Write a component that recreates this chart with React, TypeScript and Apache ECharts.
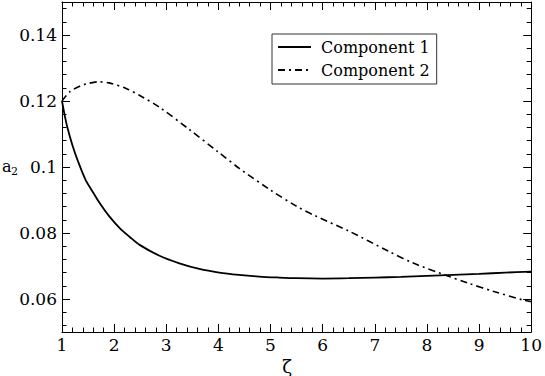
import React, { useEffect, useRef } from "react";
import * as echarts from "echarts";

const comp1X = [1.0, 1.05, 1.1, 1.2, 1.31, 1.45, 1.6, 1.725, 1.9, 2.107, 2.3, 2.489, 2.87, 3.252, 3.634, 4.015, 4.397, 4.779, 5.16, 5.5, 6.0, 6.5, 7.0, 7.5, 8.0, 8.5, 9.0, 9.5, 10.0];
const comp1Y = [0.12, 0.1158, 0.1122, 0.1066, 0.1016, 0.0962, 0.0922, 0.089, 0.0852, 0.0815, 0.0788, 0.0764, 0.0731, 0.0708, 0.0691, 0.068, 0.0673, 0.0668, 0.0665, 0.0663, 0.0662, 0.0663, 0.0665, 0.0667, 0.067, 0.0673, 0.0676, 0.068, 0.0683];

const comp2X = [1.0, 1.15, 1.34, 1.5, 1.69, 1.9, 2.23, 2.5, 2.87, 3.44, 4.0, 4.4, 5.0, 5.5, 5.86, 6.5, 7.26, 7.75, 8.31, 8.79, 9.3, 9.84, 10.0];
const comp2Y = [0.12, 0.1228, 0.1245, 0.1253, 0.1258, 0.1255, 0.1238, 0.1216, 0.1181, 0.1114, 0.1045, 0.0996, 0.093, 0.0881, 0.0852, 0.0806, 0.0745, 0.0708, 0.0675, 0.0648, 0.0622, 0.0597, 0.0592];

const seriesNames = ["Component 1", "Component 2"];
const xTicks = [1, 10];
const yMajorTicks = [0.06, 0.08, 0.1, 0.12, 0.14];
const yMinorTicks = [0.052, 0.056, 0.064, 0.068, 0.072, 0.076, 0.084, 0.088, 0.092, 0.096, 0.104, 0.108, 0.112, 0.116, 0.124, 0.128, 0.132, 0.136, 0.144, 0.148];
const yRange = [0.05, 0.15];

const FONT = "DejaVu Serif";

export default function App() {
  const ref = useRef<HTMLDivElement>(null);
  useEffect(() => {
    if (!ref.current) return;
    const chart = echarts.init(ref.current, null, { renderer: "svg" });
    const axisLine = { show: true, lineStyle: { color: "#000", width: 1 } };
    const mkX = (pos: string, labels: boolean) => ({
      type: "value",
      position: pos,
      min: xTicks[0],
      max: xTicks[1],
      interval: 1,
      axisLine,
      splitLine: { show: false },
      axisTick: { show: true, inside: true, length: 8, lineStyle: { color: "#000", width: 1 } },
      minorTick: { show: true, splitNumber: 5, length: 4.5, lineStyle: { color: "#000", width: 1 } },
      axisLabel: {
        show: labels,
        margin: 4,
        fontFamily: FONT,
        fontSize: 17,
        color: "#000",
      },
    });
    const mkY = (pos: string, labels: boolean, minor: boolean) => ({
      type: "value",
      position: pos,
      min: yRange[0],
      max: yRange[1],
      axisLine: minor ? { show: false } : axisLine,
      splitLine: { show: false },
      axisTick: {
        show: true,
        inside: true,
        length: minor ? 4.5 : 8,
        customValues: minor ? yMinorTicks : yMajorTicks,
        lineStyle: { color: "#000", width: 1 },
      },
      axisLabel: {
        show: labels,
        customValues: yMajorTicks,
        margin: 5,
        fontFamily: FONT,
        fontSize: 17,
        color: "#000",
        formatter: (v: number) => String(parseFloat(v.toFixed(3))),
      },
    });
    chart.setOption({
      animation: false,
      backgroundColor: "#fff",
      textStyle: { fontFamily: FONT },
      grid: { left: 62, right: 11, top: 2, bottom: 44, containLabel: false },
      xAxis: [mkX("bottom", true), mkX("top", false)],
      yAxis: [mkY("left", true, false), mkY("left", false, true), mkY("right", false, false), mkY("right", false, true)],
      legend: {
        orient: "vertical",
        left: 272,
        top: 34,
        padding: [5, 7, 6, 5],
        itemGap: 7,
        itemWidth: 33,
        itemHeight: 12,
        borderColor: "#333",
        borderWidth: 1,
        itemStyle: { color: "rgba(0,0,0,0)", borderWidth: 0, opacity: 0 },
        textStyle: { fontFamily: FONT, fontSize: 16, color: "#000", padding: [0, 0, 0, 5] },
        data: seriesNames,
      },
      graphic: [
        { type: "text", left: 2, top: 158, style: { text: "a", fontFamily: FONT, fontSize: 16, fill: "#000" } },
        { type: "text", left: 11, top: 166, style: { text: "2", fontFamily: FONT, fontSize: 11, fill: "#000" } },
        { type: "text", x: 287, y: 366, style: { text: "ζ", fontFamily: FONT, fontSize: 18, fill: "#000", align: "center", verticalAlign: "middle" } },
      ],
      series: [
        {
          name: seriesNames[0],
          type: "line",
          xAxisIndex: 0,
          yAxisIndex: 0,
          smooth: 0.3,
          symbol: "none",
          lineStyle: { color: "#000", width: 1.8, type: "solid" },
          itemStyle: { color: "#000" },
          data: comp1X.map((x, i) => [x, comp1Y[i]]),
        },
        {
          name: seriesNames[1],
          type: "line",
          xAxisIndex: 0,
          yAxisIndex: 0,
          smooth: 0.3,
          symbol: "none",
          lineStyle: { color: "#000", width: 1.6, type: [7, 4, 2, 4] },
          itemStyle: { color: "#000" },
          data: comp2X.map((x, i) => [x, comp2Y[i]]),
        },
      ],
    });
    return () => chart.dispose();
  }, []);
  return <div ref={ref} style={{ position: "fixed", left: 0, top: 0, width: 545, height: 376 }} />;
}
